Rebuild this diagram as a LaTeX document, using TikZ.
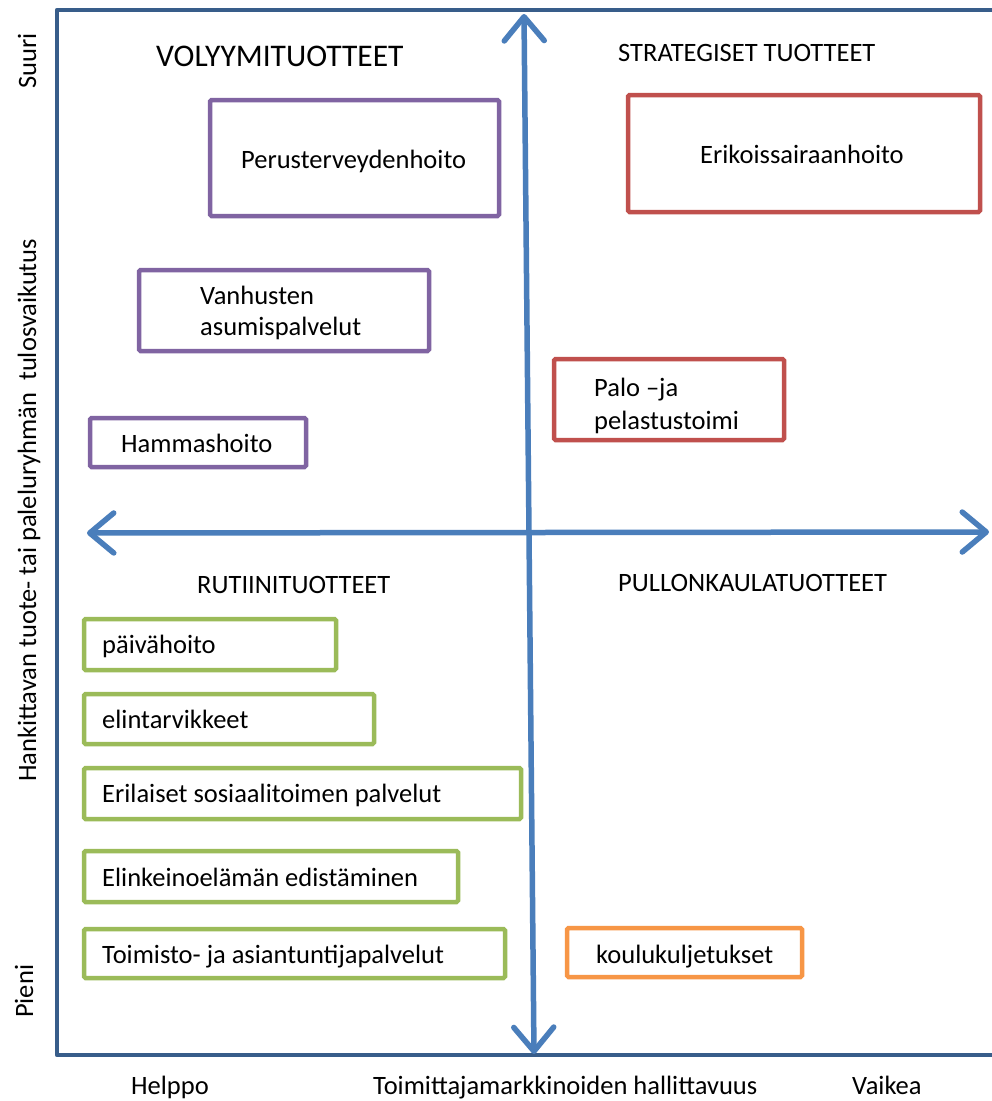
\documentclass[tikz,border=0pt]{standalone}
\usepackage{fontspec}
\setmainfont{Carlito}
\usetikzlibrary{arrows.meta}
\definecolor{framecol}{HTML}{385D8A}
\definecolor{arrowcol}{HTML}{4A7EBB}
\definecolor{purp}{HTML}{8064A2}
\definecolor{redc}{HTML}{C0504D}
\definecolor{greenc}{HTML}{9BBB59}
\definecolor{orangec}{HTML}{F79646}
\begin{document}
\begin{tikzpicture}[x=1pt,y=-1pt,
  box/.style={draw=#1, line width=4.5pt, rounded corners=1.5pt, inner sep=0pt, outer sep=0pt, anchor=north west},
  lbl/.style={anchor=base west, inner sep=0pt, font=\fontsize{26.5}{32}\selectfont, text=black},
  biglbl/.style={lbl, font=\fontsize{31.5}{36}\selectfont},
  frameline/.style={draw=framecol, line width=4.5pt, line join=round, line cap=round},
  axarrow/.style={draw=arrowcol, line width=5.5pt, line cap=round, line join=round,
    {Straight Barb[length=24pt,width=40pt,round]}-{Straight Barb[length=24pt,width=40pt,round]}}]
\useasboundingbox (0,0) rectangle (992,1101);
\fill[white] (0,0) rectangle (992,1101);

% frame
\draw[frameline] (995,10) -- (57,10) -- (57,1055) -- (995,1055);

% boxes
\node[box=purp, minimum width=289pt, minimum height=116pt] (perus) at (210,100) {};
\node[box=redc, minimum width=352pt, minimum height=117pt] (erik) at (628,95) {};
\node[box=purp, minimum width=290pt, minimum height=81pt] (vanh) at (139,270) {};
\node[box=redc, minimum width=230pt, minimum height=81pt] (palo) at (554,359) {};
\node[box=purp, minimum width=216pt, minimum height=49pt] (hamm) at (90,418) {};
\node[box=greenc, minimum width=252pt, minimum height=51pt] (paiv) at (84,619) {};
\node[box=greenc, minimum width=290pt, minimum height=50pt] (elin) at (84,694) {};
\node[box=greenc, minimum width=437pt, minimum height=51pt] (eril) at (84,768) {};
\node[box=greenc, minimum width=374pt, minimum height=51pt] (elink) at (84,851) {};
\node[box=greenc, minimum width=421pt, minimum height=49pt] (toim) at (84,929) {};
\node[box=orangec, minimum width=235pt, minimum height=49pt] (koulu) at (567,928) {};

% arrows
\coordinate (vtop) at (524,14);
\coordinate (vbot) at (534,1054);
\coordinate (hleft) at (87,533);
\coordinate (hright) at (989,532);
\draw[axarrow] (vtop) -- (vbot);
\draw[axarrow] (hleft) -- (hright);

% box texts
\node[lbl] (tperus) at (241,168) {Perusterveydenhoito};
\node[lbl] (terik) at (700,163) {Erikoissairaanhoito};
\node[lbl] (tvanh1) at (200,304) {Vanhusten};
\node[lbl] (tvanh2) at (200,335) {asumispalvelut};
\node[lbl] (tpalo1) at (594,396) {Palo –ja};
\node[lbl] (tpalo2) at (594,429) {pelastustoimi};
\node[lbl] (thamm) at (121,452) {Hammashoito};
\node[lbl] (tpaiv) at (102,653) {päivähoito};
\node[lbl] (telin) at (102,728) {elintarvikkeet};
\node[lbl] (teril) at (102,802) {Erilaiset sosiaalitoimen palvelut};
\node[lbl] (telink) at (102,886) {Elinkeinoelämän edistäminen};
\node[lbl] (ttoim) at (102,963) {Toimisto- ja asiantuntijapalvelut};
\node[lbl] (tkoulu) at (596,963) {koulukuljetukset};

% quadrant titles
\node[biglbl] (volyymi) at (156,66) {VOLYYMITUOTTEET};
\node[lbl] (strat) at (618,61) {STRATEGISET TUOTTEET};
\node[lbl] (rutiini) at (197,593) {RUTIINITUOTTEET};
\node[lbl] (pullon) at (618,591) {PULLONKAULATUOTTEET};

% axis labels
\node[lbl, rotate=90] (suuri) at (36,89) {Suuri};
\node[lbl, rotate=90] (pieni) at (33,1018) {Pieni};
\node[lbl, rotate=90] (ylabel) at (36,782) {Hankittavan tuote- tai paleluryhmän~ tulosvaikutus};
\node[lbl] (helppo) at (131,1094) {Helppo};
\node[lbl] (xlabel) at (373,1094) {Toimittajamarkkinoiden hallittavuus};
\node[lbl] (vaikea) at (852,1094) {Vaikea};
\end{tikzpicture}
\end{document}
